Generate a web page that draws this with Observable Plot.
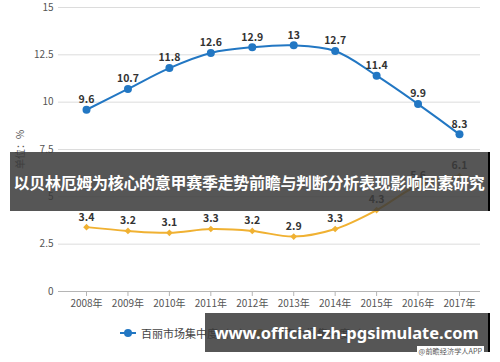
<!DOCTYPE html>
<html>
<head>
<meta charset="utf-8">
<script src="https://cdn.jsdelivr.net/npm/d3@7"></script>
<script src="https://cdn.jsdelivr.net/npm/@observablehq/plot@0.6"></script>
<style>
  html, body { margin: 0; padding: 0; background: #fff; }
  #wrap { position: relative; width: 500px; height: 362px; overflow: hidden; font-family: "Noto Sans CJK SC", "Noto Sans", sans-serif; }
  #legend { position: absolute; top: 325px; left: 0; width: 500px; height: 16px; font-size: 11px; color: #444; }
  .item { position: absolute; top: 0; display: flex; align-items: center; height: 16px; white-space: nowrap; }
  .mk { position: relative; width: 16px; height: 16px; margin-right: 5px; }
  .mk .ln { position: absolute; left: 0; top: 7px; width: 16px; height: 2px; }
  .mk .dt { position: absolute; left: 4px; top: 4px; width: 8px; height: 8px; border-radius: 50%; }
  #credit { position: absolute; right: 16px; top: 346px; height: 11px; line-height: 11px; padding: 0 2px; font-size: 7.2px; color: #555; background: #fff; white-space: nowrap; }
  .banner { position: absolute; background: rgba(58,58,58,0.86); color: #fff; font-weight: bold; display: flex; align-items: center; justify-content: center; border-right: 2px solid #000; box-sizing: border-box; white-space: nowrap; }
  #b1 { left: 10px; top: 152px; width: 480px; height: 59px; font-size: 16px; letter-spacing: -0.3px; }
  #b2 { left: 205px; top: 313px; width: 285px; height: 39px; font-size: 16.5px; font-family: "Noto Sans", "Open Sans", sans-serif; }
</style>
</head>
<body>
<div id="wrap">
  <div id="chart"></div>
  <div id="legend"></div>
  <div class="banner" id="b1">以贝林厄姆为核心的意甲赛季走势前瞻与判断分析表现影响因素研究</div>
  <div class="banner" id="b2">www.official-zh-pgsimulate.com</div>
  <div id="credit">@前瞻经济学人APP</div>
</div>
<script>
const years = [2008, 2009, 2010, 2011, 2012, 2013, 2014, 2015, 2016, 2017];
const belle = [9.6, 10.7, 11.8, 12.6, 12.9, 13, 12.7, 11.4, 9.9, 8.3];
const other = [3.4, 3.2, 3.1, 3.3, 3.2, 2.9, 3.3, 4.3, 5.6, 6.1];
const yTicks = [0, 2.5, 5, 7.5, 10, 12.5, 15];
const seriesNames = ["百丽市场集中度（%）", "耐克市场集中度（%）"];
const colors = ["#2277c3", "#f0b132"];

const rowsA = years.map((year, i) => ({year, value: belle[i]}));
const rowsB = years.map((year, i) => ({year, value: other[i]}));

const chart = Plot.plot({
  width: 500,
  height: 312,
  marginLeft: 58,
  marginRight: 20,
  marginTop: 7,
  marginBottom: 21,
  style: {fontFamily: "'Noto Sans CJK SC', sans-serif", background: "transparent"},
  x: {type: "linear", domain: [2007.324, 2017.507]},
  y: {domain: [0, 15]},
  marks: [
    Plot.gridY(yTicks, {stroke: "#dcdcdc", strokeOpacity: 1}),
    Plot.axisY(yTicks, {tickSize: 0, tickPadding: 5, fontSize: 10, fill: "#555",
      tickFormat: d => String(d),
      label: "单位：%", labelAnchor: "center", labelArrow: "none", labelOffset: 42}),
    Plot.ruleY([0], {stroke: "#b5b5b5"}),
    Plot.axisX(years, {tickSize: 5, tickPadding: 3, fontSize: 10, fill: "#555", stroke: "#b5b5b5",
      tickFormat: d => d + "年", label: null}),
    Plot.lineY(rowsB, {x: "year", y: "value", stroke: colors[1], strokeWidth: 2, curve: "catmull-rom"}),
    Plot.dot(rowsB, {x: "year", y: "value", fill: colors[1], r: 3, symbol: "diamond2"}),
    Plot.text(rowsB, {x: "year", y: "value", text: d => String(d.value), dy: -10, fontSize: 10.5, fontWeight: "bold", fill: "#333"}),
    Plot.lineY(rowsA, {x: "year", y: "value", stroke: colors[0], strokeWidth: 2, curve: "catmull-rom"}),
    Plot.dot(rowsA, {x: "year", y: "value", fill: colors[0], r: 4}),
    Plot.text(rowsA, {x: "year", y: "value", text: d => String(d.value), dy: -10, fontSize: 10.5, fontWeight: "bold", fill: "#333"})
  ]
});
document.getElementById("chart").appendChild(chart);

const legend = document.getElementById("legend");
const lefts = [120, 252];
seriesNames.forEach((name, i) => {
  const item = document.createElement("div");
  item.className = "item";
  item.style.left = lefts[i] + "px";
  item.innerHTML = `<span class="mk"><span class="ln" style="background:${colors[i]}"></span><span class="dt" style="background:${colors[i]}"></span></span><span>${name}</span>`;
  legend.appendChild(item);
});
</script>
</body>
</html>
